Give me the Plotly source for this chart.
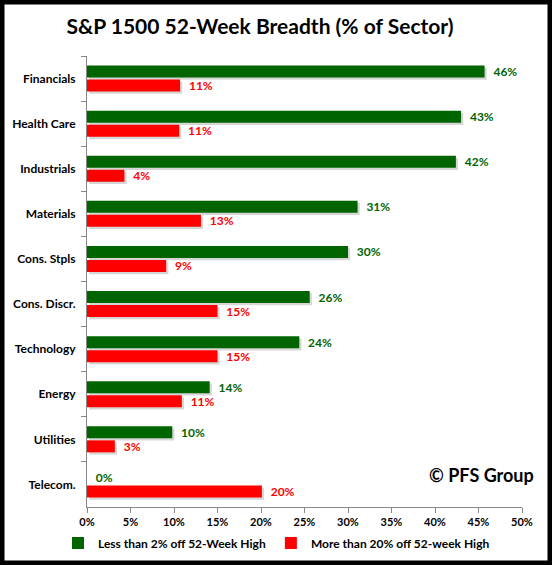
import plotly.graph_objects as go

categories = ["Financials", "Health Care", "Industrials", "Materials", "Cons. Stpls",
              "Cons. Discr.", "Technology", "Energy", "Utilities", "Telecom."]
near_high = [45.7, 43.0, 42.4, 31.1, 30.0, 25.6, 24.4, 14.1, 9.8, 0.0]
far_from_high = [10.7, 10.6, 4.3, 13.1, 9.1, 15.0, 15.0, 10.9, 3.2, 20.1]
x_ticks = [0, 5, 10, 15, 20, 25, 30, 35, 40, 45, 50]
x_tick_labels = [f"{v}%" for v in x_ticks]

GREEN = "#006400"
RED = "#FF0000"
SHADOW = "rgba(0,0,0,0.16)"
FONT = "Lato"

W, H = 552, 565
L, R, T, B = 87, 30, 56, 58
pw, ph = W - L - R, H - T - B

def px(x):
    return (x - L) / pw

def py(y):
    return (H - B - y) / ph

BAR_W = 0.266
GAP = 0.044
OFF_G = -(BAR_W + GAP / 2)
OFF_R = GAP / 2
SH_DY = 0.05   # shadow offset in category units
SH_DX = 0.25   # shadow offset in % units

fig = go.Figure()
# soft drop shadows
for vals, off in ((near_high, OFF_G), (far_from_high, OFF_R)):
    fig.add_trace(go.Bar(
        y=categories, x=vals, base=SH_DX, orientation="h", width=BAR_W,
        offset=off + SH_DY, marker=dict(color=SHADOW, line=dict(width=0)),
        showlegend=False, hoverinfo="skip",
    ))

lab = "\u00a0\u00a0"
fig.add_trace(go.Bar(
    y=categories, x=near_high, orientation="h", name="Less than 2% off 52-Week High",
    width=BAR_W, offset=OFF_G,
    marker=dict(color=GREEN, line=dict(width=0)), text=[f"{lab}{v:.0f}%" for v in near_high],
    textposition="outside", cliponaxis=False, constraintext="none",
    textfont=dict(color=GREEN, size=12, family=FONT, weight="bold"),
))
fig.add_trace(go.Bar(
    y=categories, x=far_from_high, orientation="h", name="More than 20% off 52-week High",
    width=BAR_W, offset=OFF_R,
    marker=dict(color=RED, line=dict(width=0)), text=[f"{lab}{v:.0f}%" for v in far_from_high],
    textposition="outside", cliponaxis=False, constraintext="none",
    textfont=dict(color=RED, size=12, family=FONT, weight="bold"),
))

fig.update_layout(
    width=W, height=H,
    margin=dict(l=L, r=R, t=T, b=B, autoexpand=False),
    paper_bgcolor="white", plot_bgcolor="white",
    barmode="overlay",
    font=dict(family=FONT, color="black"),
    title=dict(text="<b>S&P 1500 52-Week Breadth (% of Sector)</b>",
               x=px(260), xref="paper", xanchor="center",
               y=1 - 27 / H, yanchor="middle",
               font=dict(size=21, family=FONT, color="black")),
    xaxis=dict(range=[0, 50], tickvals=x_ticks, ticktext=x_tick_labels,
               showgrid=False, zeroline=False, showline=True, linecolor="#888888",
               linewidth=1, ticks="outside", ticklen=5, tickcolor="#888888",
               automargin=False,
               tickfont=dict(size=11, family=FONT, weight="bold", color="black"),
               fixedrange=True),
    yaxis=dict(categoryorder="array", categoryarray=categories, autorange="reversed",
               showgrid=False, showline=True, linecolor="#888888", linewidth=1,
               ticks="outside", ticklen=5, tickcolor="#888888", tickson="boundaries",
               ticklabelstandoff=8, automargin=False,
               tickfont=dict(size=12, family=FONT, weight="bold", color="black")),
    legend=dict(orientation="h", x=px(58), xanchor="left", y=py(543), yanchor="middle",
                font=dict(size=12, family=FONT, weight="bold", color="black"),
                itemwidth=30, traceorder="normal", bgcolor="rgba(0,0,0,0)"),
    showlegend=True,
    annotations=[dict(text="<b>© PFS Group</b>", x=px(536), y=py(475), xref="paper",
                      yref="paper", xanchor="right", yanchor="middle", showarrow=False,
                      font=dict(size=18, family=FONT, color="black"))],
    shapes=[dict(type="rect", xref="paper", yref="paper",
                 x0=px(2), x1=px(W - 2), y0=py(H - 2), y1=py(2),
                 line=dict(color="black", width=5), fillcolor="rgba(0,0,0,0)",
                 layer="above")],
)

fig.write_html("out.html", config={"displayModeBar": False},
               post_script="document.body.style.margin='0';document.body.style.padding='0';")
